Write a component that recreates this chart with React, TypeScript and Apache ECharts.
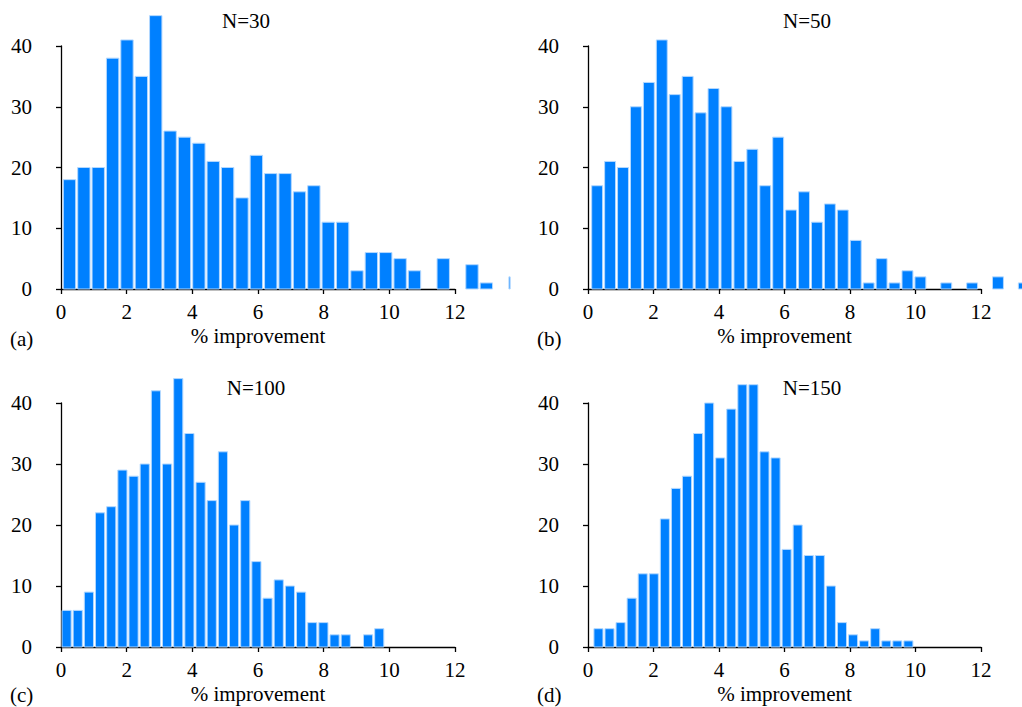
import React, { useEffect, useRef } from "react";
import * as echarts from "echarts";

// ---- data ----
const panelTitles = ["N=30", "N=50", "N=100", "N=150"];
const panelTags = ["(a)", "(b)", "(c)", "(d)"];
const xAxisName = "% improvement";

// histogram bins: start (in % improvement), width, counts
const binStartA = 0.04;
const binWidthA = 0.4378;
const countsA = [18, 20, 20, 38, 41, 35, 45, 26, 25, 24, 21, 20, 15, 22, 19, 19, 16, 17, 11, 11, 3, 6, 6, 5, 3, 0, 5, 0, 4, 1, 0, 2];

const binStartB = 0.082;
const binWidthB = 0.3948;
const countsB = [17, 21, 20, 30, 34, 41, 32, 35, 29, 33, 30, 21, 23, 17, 25, 13, 16, 11, 14, 13, 8, 1, 5, 1, 3, 2, 0, 1, 0, 1, 0, 2, 0, 1];

const binStartC = 0.0;
const binWidthC = 0.3401;
const countsC = [6, 6, 9, 22, 23, 29, 28, 30, 42, 30, 44, 35, 27, 24, 32, 20, 24, 14, 8, 11, 10, 9, 4, 4, 2, 2, 0, 2, 3];

const binStartD = 0.15;
const binWidthD = 0.338;
const countsD = [3, 3, 4, 8, 12, 12, 21, 26, 28, 35, 40, 31, 39, 43, 43, 32, 31, 16, 20, 15, 15, 10, 4, 2, 1, 3, 1, 1, 1];

const xMin = 0;
const xMax = 12;
const xInterval = 2;
const yMin = 0;
const yMax = 40;
const yInterval = 10;

// ---- layout / style ----
const FONT = "Liberation Serif";
const FS = 21;
const BAR_FILL = "#0080ff";
const BAR_EDGE = "#b3d8ff";

const grids = [
  { left: 61, top: 46, width: 394, height: 243 },
  { left: 588, top: 46, width: 393, height: 243 },
  { left: 61, top: 403, width: 394, height: 244 },
  { left: 588, top: 403, width: 393, height: 244 },
];
// how far (in x units) bars may be drawn past the axis end before being clipped
const clipMax = [13.68, 14.5, 12.5, 12.5];
const titlePos = [
  [246, 20.5],
  [807, 20.5],
  [256, 387.5],
  [812, 387.5],
];
const tagPos = [
  [10, 338.5],
  [537, 338.5],
  [10, 695],
  [537, 695],
];

const panels = [
  { start: binStartA, width: binWidthA, counts: countsA },
  { start: binStartB, width: binWidthB, counts: countsB },
  { start: binStartC, width: binWidthC, counts: countsC },
  { start: binStartD, width: binWidthD, counts: countsD },
];

export default function App() {
  const ref = useRef<HTMLDivElement>(null);

  useEffect(() => {
    document.body.style.margin = "0";
    if (!ref.current) return;
    const chart = echarts.init(ref.current, undefined, { renderer: "svg" });

    const makeRender = (pi: number) => (params: any, api: any) => {
      const x0 = api.value(0);
      const x1 = api.value(1);
      const v = api.value(2);
      if (!v) return null;
      const p0 = api.coord([x0, 0]);
      const p1 = api.coord([x1, v]);
      const limit = api.coord([clipMax[pi], 0])[0];
      const cs = params.coordSys;
      const rect = {
        x: p0[0] + 1,
        y: p1[1],
        width: p1[0] - p0[0] - 2,
        height: p0[1] - p1[1],
      };
      const clipped = echarts.graphic.clipRectByRect(rect, {
        x: cs.x,
        y: 0,
        width: limit - cs.x,
        height: 2000,
      });
      if (!clipped) return null;
      return {
        type: "rect",
        shape: clipped,
        style: { fill: BAR_FILL, stroke: BAR_EDGE, lineWidth: 1 },
      };
    };

    const axisText = {
      color: "#000",
      fontFamily: FONT,
      fontSize: FS,
      fontWeight: "normal",
    };

    const option: any = {
      animation: false,
      backgroundColor: "#fff",
      textStyle: { fontFamily: FONT, fontSize: FS, color: "#000" },
      grid: grids.map((g) => ({ ...g, containLabel: false })),
      xAxis: grids.map((_, i) => ({
        type: "value",
        gridIndex: i,
        min: xMin,
        max: xMax,
        interval: xInterval,
        offset: 1,
        name: xAxisName,
        nameLocation: "middle",
        nameGap: 35,
        nameTextStyle: { ...axisText },
        axisLine: { show: true, lineStyle: { color: "#000", width: 1.3 } },
        axisTick: { show: true, length: 5, lineStyle: { color: "#000", width: 1.3 } },
        axisLabel: { ...axisText, margin: 11 },
        splitLine: { show: false },
      })),
      yAxis: grids.map((_, i) => ({
        type: "value",
        gridIndex: i,
        min: yMin,
        max: yMax,
        interval: yInterval,
        offset: 17,
        axisLine: { show: true, lineStyle: { color: "#000", width: 1.3 } },
        axisTick: { show: true, length: 5, lineStyle: { color: "#000", width: 1.3 } },
        axisLabel: { ...axisText, margin: 12 },
        splitLine: { show: false },
      })),
      series: panels.map((p, i) => ({
        type: "custom",
        xAxisIndex: i,
        yAxisIndex: i,
        clip: false,
        renderItem: makeRender(i),
        encode: { x: [0, 1], y: 2 },
        data: p.counts.map((c, k) => [p.start + k * p.width, p.start + (k + 1) * p.width, c]),
      })),
      graphic: [
        ...panelTitles.map((t, i) => ({
          type: "text",
          x: titlePos[i][0],
          y: titlePos[i][1],
          style: {
            text: t,
            fill: "#000",
            font: `${FS}px ${FONT}`,
            textAlign: "center",
            textVerticalAlign: "middle",
          },
        })),
        ...panelTags.map((t, i) => ({
          type: "text",
          x: tagPos[i][0],
          y: tagPos[i][1],
          style: {
            text: t,
            fill: "#000",
            font: `${FS}px ${FONT}`,
            textAlign: "left",
            textVerticalAlign: "middle",
          },
        })),
      ],
    };

    chart.setOption(option);
    return () => chart.dispose();
  }, []);

  return <div ref={ref} style={{ width: 1022, height: 707 }} />;
}
